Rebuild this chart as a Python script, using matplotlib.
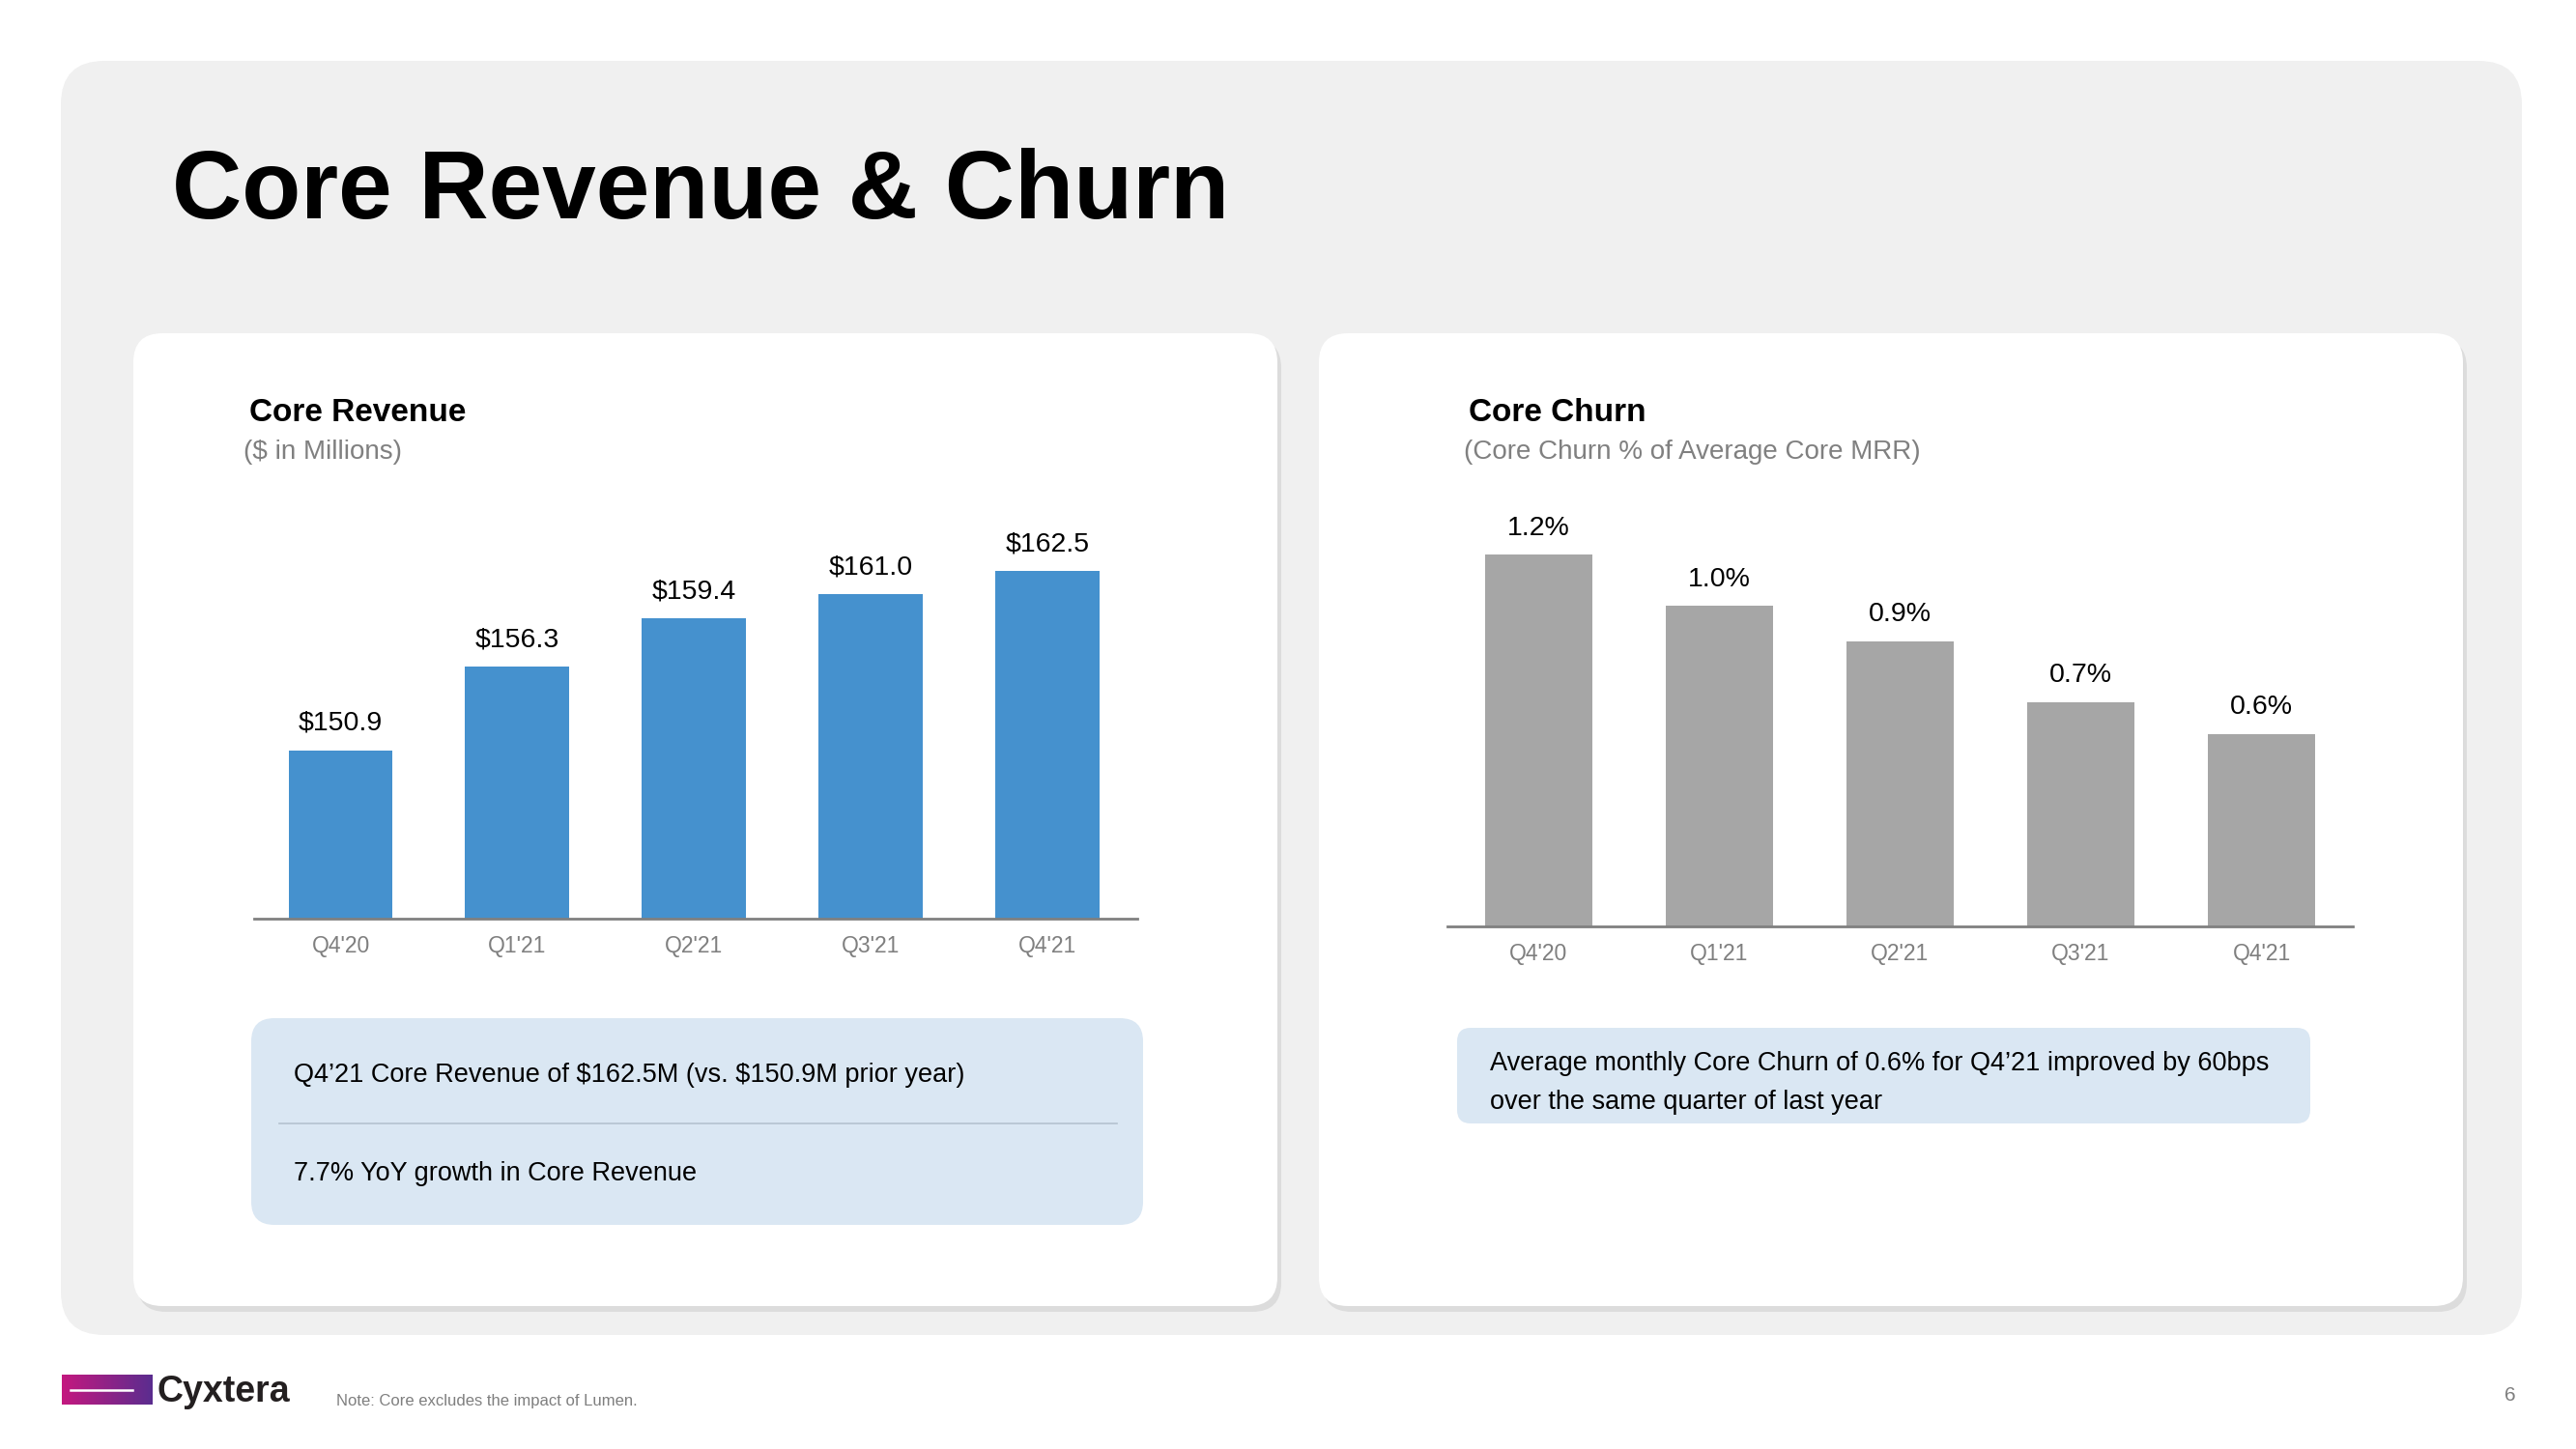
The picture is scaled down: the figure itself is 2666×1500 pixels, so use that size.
import matplotlib
matplotlib.use("Agg")
import matplotlib.pyplot as plt
import numpy as np
from matplotlib.patches import FancyBboxPatch

plt.rcParams['font.family'] = ['Liberation Sans', 'DejaVu Sans']

# data
quarters = ["Q4'20", "Q1'21", "Q2'21", "Q3'21", "Q4'21"]
revenue = [150.9, 156.3, 159.4, 161.0, 162.5]
churn = [1.16, 1.00, 0.89, 0.70, 0.60]

W, H = 2666, 1500
fig = plt.figure(figsize=(W / 100, H / 100), dpi=100)
fig.patch.set_facecolor('white')

# background layer in pixel coords (y down)
bg = fig.add_axes([0, 0, 1, 1])
bg.axis('off')


def rbox(x, y, w, h, r, fc, z=1):
    p = FancyBboxPatch((x, y), w, h, boxstyle="round,pad=0,rounding_size=%d" % r,
                       fc=fc, ec='none', zorder=z)
    bg.add_patch(p)


def txt(x, y, s, **kw):
    kw.setdefault('va', 'center')
    kw.setdefault('zorder', 6)
    bg.text(x, y, s, parse_math=False, **kw)


rbox(63, 63, 2547, 1319, 45, '#f0f0f0')
# cards with a soft shadow
for cx in [138, 1365]:
    rbox(cx + 4, 351, 1184, 1007, 30, '#dcdcdc', z=2)
    rbox(cx, 345, 1184, 1007, 30, 'white', z=3)

txt(178, 200, "Core Revenue & Churn", fontsize=72, fontweight='bold', color='black')

txt(258, 427, "Core Revenue", fontsize=24, fontweight='bold')
txt(252, 468, "($ in Millions)", fontsize=20, color='#808080')
txt(1520, 427, "Core Churn", fontsize=24, fontweight='bold')
txt(1515, 468, "(Core Churn % of Average Core MRR)", fontsize=20, color='#808080')

# comment boxes
rbox(260, 1054, 923, 214, 24, '#dae7f3', z=4)
bg.plot([289, 1156], [1163, 1163], color='#b4c2cf', lw=1.2, zorder=5)
txt(304, 1113, "Q4\u201921 Core Revenue of $162.5M (vs. $150.9M prior year)", fontsize=19.5)
txt(304, 1215, "7.7% YoY growth in Core Revenue", fontsize=19.5)

rbox(1508, 1064, 883, 99, 14, '#dae7f3', z=4)
txt(1542, 1101, "Average monthly Core Churn of 0.6% for Q4\u201921 improved by 60bps",
    fontsize=19.5)
txt(1542, 1141, "over the same quarter of last year", fontsize=19.5)

# footer: logo, note, page number
grad = np.linspace(0, 1, 256).reshape(1, -1)
cmap = matplotlib.colors.LinearSegmentedColormap.from_list('cx', ['#c4187f', '#5a2d8f'])
bg.imshow(grad, cmap=cmap, extent=(64, 158, 1454, 1423), aspect='auto', zorder=5)
bg.plot([73, 137], [1439, 1439], color='white', lw=1.8, zorder=6)
txt(162, 1441, "Cyxtera", fontsize=27, fontweight='bold', color='#231f20')
txt(348, 1450, "Note: Core excludes the impact of Lumen.", fontsize=12, color='#7f7f7f')
txt(2598, 1445, "6", fontsize=15, color='#7f7f7f', ha='center')

bg.set_xlim(0, W)
bg.set_ylim(H, 0)


def ax_at(x0, y0, x1, y1):
    return fig.add_axes([x0 / W, 1 - y1 / H, (x1 - x0) / W, (y1 - y0) / H], zorder=10)


def style(ax):
    ax.patch.set_alpha(0)
    for s in ['top', 'right', 'left']:
        ax.spines[s].set_visible(False)
    ax.spines['bottom'].set_color('#808080')
    ax.spines['bottom'].set_linewidth(2)
    ax.set_yticks([])
    ax.set_xticks(range(len(quarters)))
    ax.set_xticklabels(quarters)
    ax.tick_params(axis='x', length=0, pad=12, labelsize=16.5, labelcolor='#7f7f7f')


x = np.arange(len(quarters))

# revenue chart
ax1 = ax_at(263, 510, 1177, 951)
ax1.bar(x, revenue, width=0.59, color='#4591ce')
ax1.set_ylim(140, 167.55)
ax1.set_xlim(-0.49, 4.51)
style(ax1)
for xi, v in zip(x, revenue):
    ax1.annotate("$%.1f" % v, (xi, v), xytext=(0, 20), textcoords='offset points',
                 ha='center', va='center', fontsize=20.5)

# churn chart
ax2 = ax_at(1498, 510, 2435, 959)
ax2.bar(x, churn, width=0.59, color='#a6a6a6')
ax2.set_ylim(0, 1.354)
ax2.set_xlim(-0.505, 4.505)
style(ax2)
for xi, v in zip(x, churn):
    ax2.annotate("%.1f%%" % v, (xi, v), xytext=(0, 20), textcoords='offset points',
                 ha='center', va='center', fontsize=20.5)

fig.savefig("out.png", dpi=100)
